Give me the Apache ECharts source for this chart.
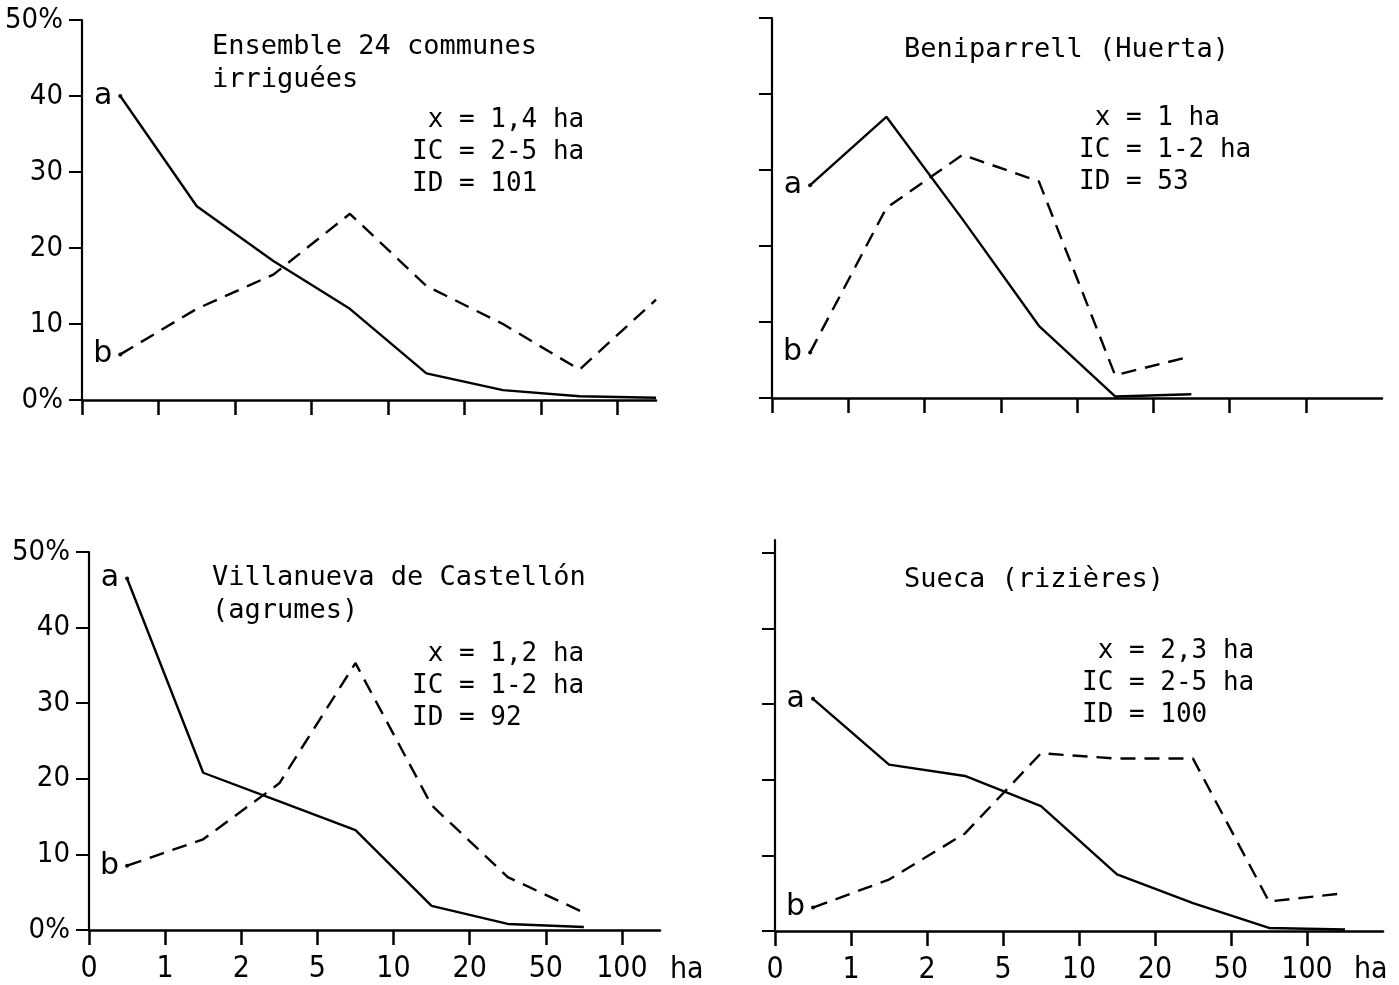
<!DOCTYPE html>
<html><head><meta charset="utf-8">
<script src="https://cdn.jsdelivr.net/npm/echarts@6.0.0/dist/echarts.min.js"></script>
<style>html,body{margin:0;padding:0;background:#fff}#c{width:1399px;height:985px}</style>
</head><body><div id="c"></div><script>
// x classes (ha): 0-1, 1-2, 2-5, 5-10, 10-20, 20-50, 50-100, >100
const sizeClasses = ['0-1','1-2','2-5','5-10','10-20','20-50','50-100','100+'];
const tickLabels = ['0','1','2','5','10','20','50','100'];
const yTicks = [0,10,20,30,40,50];

// Ensemble 24 communes irriguées
const ensembleA = [40, 25.5, 18.3, 12, 3.5, 1.3, 0.5, 0.3];
const ensembleB = [6, 12, 16.5, 24.5, 15, 10, 4, 13.2];
// Beniparrell (Huerta)
const beniA = [28, 37, 23.5, 9.5, 0.2, 0.5];
const beniB = [6, 25, 32, 28.5, 3, 5.5];
// Villanueva de Castellón (agrumes)
const villaA = [46.5, 20.8, 17, 13.2, 3.2, 0.8, 0.4];
const villaB = [8.5, 12, 19.4, 35.3, 16.5, 7, 2.3];
// Sueca (rizières)
const suecaA = [30.7, 22, 20.5, 16.5, 7.5, 3.7, 0.4, 0.2];
const suecaB = [3.1, 6.8, 12.9, 23.5, 22.8, 22.8, 3.9, 5];

const titles = [
  ['Ensemble 24 communes', 'irriguées'],
  ['Beniparrell (Huerta)'],
  ['Villanueva de Castellón', '(agrumes)'],
  ['Sueca (rizières)']
];
const stats = [
  [' x = 1,4 ha', 'IC = 2-5 ha', 'ID = 101'],
  [' x = 1 ha', 'IC = 1-2 ha', 'ID = 53'],
  [' x = 1,2 ha', 'IC = 1-2 ha', 'ID = 92'],
  [' x = 2,3 ha', 'IC = 2-5 ha', 'ID = 100']
];

const MONO = "'DejaVu Sans Mono', monospace";
const SANS = "'DejaVu Sans', sans-serif";
const COND = "'DejaVu Sans Condensed', 'Liberation Sans Narrow', 'DejaVu Sans', sans-serif";

const panels = [
  {grid:{left:82, top:20, width:574, height:380}, xmax:7.5, ymax:50, ylab:true, xlab:false, a:ensembleA, b:ensembleB,
   titleXY:[212,47], statXY:[412,120]},
  {grid:{left:772, top:18, width:610, height:380}, xmax:8, ymax:50, ylab:false, xlab:false, a:beniA, b:beniB,
   titleXY:[904,50], statXY:[1079,118]},
  {grid:{left:89, top:552, width:571, height:378}, xmax:7.5, ymax:50, ylab:true, xlab:true, a:villaA, b:villaB,
   titleXY:[212,578], statXY:[412,654], ha:[670,970]},
  {grid:{left:775, top:540, width:608, height:392}, xmax:8, ymax:51.7, ylab:false, xlab:true, a:suecaA, b:suecaB,
   titleXY:[904,580], statXY:[1082,651], ha:[1354,970]}
];

const xTickVals = tickLabels.map((t,i)=>i);

function pts(arr, name){
  return arr.map((v,i)=>{
    const p = [i + 0.5, v];
    if (i === 0) return {value:p, label:{show:true, position:'left', distance:6, formatter:name,
      fontSize:30, fontFamily:SANS, color:'#000'}};
    return p;
  });
}

const grid=[], xAxis=[], yAxis=[], series=[], graphic=[];
panels.forEach((p,k)=>{
  grid.push(p.grid);
  xAxis.push({gridIndex:k, type:'value', min:0, max:p.xmax,
    axisLine:{show:true, onZero:false, lineStyle:{color:'#000', width:2.5}},
    axisTick:{show:true, customValues:xTickVals, length:15, lineStyle:{color:'#000', width:2.5}},
    axisLabel:{show:p.xlab, customValues:xTickVals, formatter:v=>tickLabels[Math.round(v)],
      margin:24, fontSize:30, fontFamily:COND, color:'#000'},
    splitLine:{show:false}});
  yAxis.push({gridIndex:k, type:'value', min:0, max:p.ymax,
    axisLine:{show:true, onZero:false, lineStyle:{color:'#000', width:2.2}},
    axisTick:{show:true, customValues:yTicks, length:13, lineStyle:{color:'#000', width:2}},
    axisLabel:{show:p.ylab, customValues:yTicks, formatter:v=>v===50?'50%':(v===0?'0%':String(v)),
      margin:19, fontSize:29, fontFamily:COND, color:'#000'},
    splitLine:{show:false}});
  const common = {type:'line', xAxisIndex:k, yAxisIndex:k, showSymbol:true, symbol:'circle',
    symbolSize:(v,params)=>params.dataIndex===0?4:0, itemStyle:{color:'#000'}, silent:true, z:3};
  series.push(Object.assign({}, common, {name:'a', data:pts(p.a,'a'),
    lineStyle:{color:'#000', width:2.4, type:'solid'}}));
  series.push(Object.assign({}, common, {name:'b', data:pts(p.b,'b'),
    lineStyle:{color:'#000', width:2.4, type:[15,9]}}));
  titles[k].forEach((t,j)=>{
    graphic.push({type:'text', x:p.titleXY[0], y:p.titleXY[1]+j*33,
      style:{text:t, font:'27px '+MONO, fill:'#000', textVerticalAlign:'middle'}});
  });
  stats[k].forEach((t,j)=>{
    graphic.push({type:'text', x:p.statXY[0], y:p.statXY[1]+j*32,
      style:{text:t, font:'26px '+MONO, fill:'#000', textVerticalAlign:'middle'}});
  });
  if (p.ha) graphic.push({type:'text', x:p.ha[0], y:p.ha[1],
      style:{text:'ha', font:'30px '+COND, fill:'#000', textVerticalAlign:'middle'}});
});

const chart = echarts.init(document.getElementById('c'), null, {renderer:'canvas'});
chart.setOption({animation:false, backgroundColor:'#fff', grid, xAxis, yAxis, series, graphic});
</script></body></html>
